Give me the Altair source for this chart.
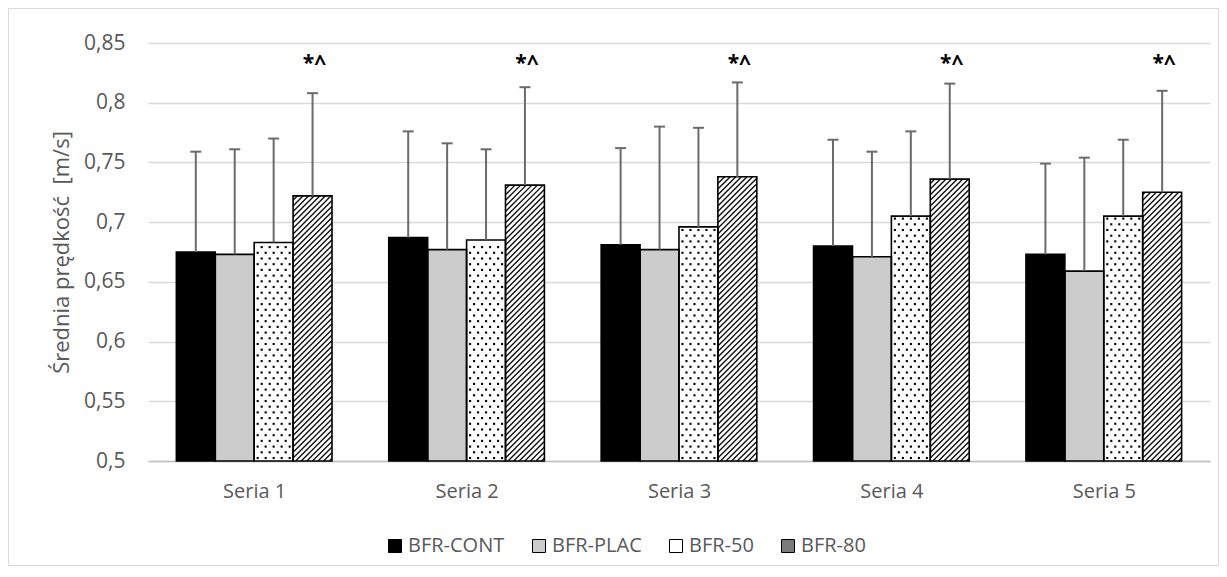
import json
import altair as alt
import pandas as pd

# ---------------- data ----------------
series = ["Seria 1", "Seria 2", "Seria 3", "Seria 4", "Seria 5"]
groups = ["BFR-CONT", "BFR-PLAC", "BFR-50", "BFR-80"]

mean_cont = [0.675, 0.687, 0.681, 0.680, 0.673]
mean_plac = [0.673, 0.677, 0.677, 0.671, 0.659]
mean_b50 = [0.683, 0.685, 0.696, 0.705, 0.705]
mean_b80 = [0.722, 0.731, 0.738, 0.736, 0.725]

sd_cont = [0.084, 0.089, 0.081, 0.089, 0.076]
sd_plac = [0.088, 0.089, 0.103, 0.088, 0.095]
sd_b50 = [0.087, 0.076, 0.083, 0.071, 0.064]
sd_b80 = [0.086, 0.082, 0.079, 0.080, 0.085]

marks_b80 = ["*^", "*^", "*^", "*^", "*^"]
annot_level = 0.8325

y_ticks = [0.5, 0.55, 0.6, 0.65, 0.7, 0.75, 0.8, 0.85]
y_title = "Średnia prędkość \u00a0[m/s]"

# ---------------- layout ----------------
W, H = 1062, 418
Y_MIN, Y_MAX = 0.5, 0.85
GROUP_START = 0.1335   # category units
BAR_W = 0.1832         # category units
KX = W / len(series)
KY = H / (Y_MAX - Y_MIN)
TEXT = "#595959"
FONT = "Open Sans"

means = [mean_cont, mean_plac, mean_b50, mean_b80]
sds = [sd_cont, sd_plac, sd_b50, sd_b80]

rows = []
for i, s in enumerate(series):
    for j, g in enumerate(groups):
        x0 = i + GROUP_START + j * BAR_W
        m = means[j][i]
        sd = sds[j][i]
        rows.append(dict(series=s, group=g, x0=x0, x1=x0 + BAR_W,
                         xc=x0 + BAR_W / 2, mean=m, top=m + sd,
                         capl=x0 + BAR_W / 2 - 5.5 / KX,
                         capr=x0 + BAR_W / 2 + 5.5 / KX))
bars = pd.DataFrame(rows)

# pattern fills, built from the bars above
w_px = BAR_W * KX
dots = []
hatch = []
for r in rows:
    h_px = (r["mean"] - Y_MIN) * KY
    if r["group"] == "BFR-50":
        k = 0
        py = 3.0
        while py < h_px - 1.5:
            px = 3.5 + (k % 2) * 4.0
            while px < w_px - 1.5:
                dots.append(dict(x=r["x0"] + px / KX, y=Y_MIN + py / KY))
                px += 8.0
            py += 5.7
            k += 1
    if r["group"] == "BFR-80":
        step = 5.6
        kk = -w_px + step / 2
        while kk < h_px:
            xa = max(0.0, -kk)
            xb = min(w_px, h_px - kk)
            if xb > xa:
                hatch.append(dict(xa=r["x0"] + xa / KX, ya=Y_MIN + (xa + kk) / KY,
                                  xb=r["x0"] + xb / KX, yb=Y_MIN + (xb + kk) / KY))
            kk += step
dots = pd.DataFrame(dots)
hatch = pd.DataFrame(hatch)

stars = bars[bars["group"] == "BFR-80"].copy()
stars["label"] = marks_b80
stars["ly"] = annot_level
stars["lx"] = stars["xc"] + 2 / KX

# ---------------- scales / axes ----------------
x_scale = alt.Scale(domain=[0, len(series)], nice=False, zero=False)
y_scale = alt.Scale(domain=[Y_MIN, Y_MAX], nice=False, zero=False)
x_axis = alt.Axis(values=[i + 0.5 for i in range(len(series))],
                  labelExpr=json.dumps(series) + "[floor(datum.value)]",
                  grid=False, ticks=False, domain=True, domainColor="#bfbfbf",
                  domainWidth=1.5, labelFont=FONT, labelFontSize=20,
                  labelColor=TEXT, labelPadding=20, title=None)
y_axis = alt.Axis(values=y_ticks,
                  labelExpr="replace(format(datum.value, '.2~f'), '.', ',')",
                  grid=True, gridColor="#d9d9d9", gridWidth=1.5,
                  ticks=False, domain=False, labelFont=FONT, labelFontSize=21,
                  labelColor=TEXT, labelPadding=23, title=y_title,
                  titleFont=FONT, titleFontSize=22, titleFontWeight="normal",
                  titleColor=TEXT, titlePadding=10)


def X(field):
    return alt.X(field, type="quantitative", scale=x_scale, axis=x_axis)


def Y(field):
    return alt.Y(field, type="quantitative", scale=y_scale, axis=y_axis)


color = alt.Color("group:N",
                  scale=alt.Scale(domain=groups,
                                  range=["#000000", "#cccccc", "#ffffff", "#7a7a7a"]),
                  legend=alt.Legend(orient="none", legendX=237, legendY=493,
                                    direction="horizontal", title=None,
                                    symbolType="square", symbolSize=169,
                                    symbolStrokeColor="black", symbolStrokeWidth=1,
                                    symbolOpacity=1, labelFont=FONT,
                                    labelFontSize=20, labelColor=TEXT,
                                    labelOffset=3, columnPadding=24, padding=0))

base_bars = alt.Chart(bars).mark_bar(opacity=1).encode(
    x=X("x0"), x2="x1", y=Y("mean"), y2=alt.datum(Y_MIN), color=color)

white_bars = alt.Chart(bars).transform_filter(
    alt.FieldOneOfPredicate(field="group", oneOf=["BFR-50", "BFR-80"])
).mark_bar(color="white", opacity=1).encode(
    x=X("x0"), x2="x1", y=Y("mean"), y2=alt.datum(Y_MIN))

dot_layer = alt.Chart(dots).mark_square(size=4.5, color="black", opacity=1,
                                        filled=True).encode(x=X("x"), y=Y("y"))

hatch_layer = alt.Chart(hatch).mark_rule(color="#111111", strokeWidth=1.4).encode(
    x=X("xa"), y=Y("ya"), x2="xb", y2="yb")

outline = alt.Chart(bars).mark_bar(fillOpacity=0, stroke="black",
                                   strokeWidth=1.6).encode(
    x=X("x0"), x2="x1", y=Y("mean"), y2=alt.datum(Y_MIN))

err = alt.Chart(bars).mark_rule(color="#6b6b6b", strokeWidth=2).encode(
    x=X("xc"), y=Y("mean"), y2="top")

caps = alt.Chart(bars).mark_rule(color="#6b6b6b", strokeWidth=2).encode(
    x=X("capl"), x2="capr", y=Y("top"))

star_layer = alt.Chart(stars).mark_text(font=FONT, fontSize=21, fontWeight="bold",
                                        color="black", align="center",
                                        baseline="middle").encode(
    x=X("lx"), y=Y("ly"), text="label:N")

frame = alt.Chart(pd.DataFrame({"a": [0]})).mark_rect(
    fillOpacity=0, stroke="#d9d9d9", strokeWidth=1).encode(
    x=alt.value(-139.5), x2=alt.value(W + 8.5),
    y=alt.value(-34.5), y2=alt.value(H + 104.5))

chart = alt.layer(frame, base_bars, white_bars, dot_layer, hatch_layer, outline,
                  err, caps, star_layer).properties(
    width=W, height=H,
    autosize=alt.AutoSizeParams(type="none"),
    padding={"left": 140, "top": 35, "right": 9, "bottom": 105},
    background="white",
).configure_view(strokeWidth=0)

chart.save("out.html", embed_options={"renderer": "svg", "actions": False})
